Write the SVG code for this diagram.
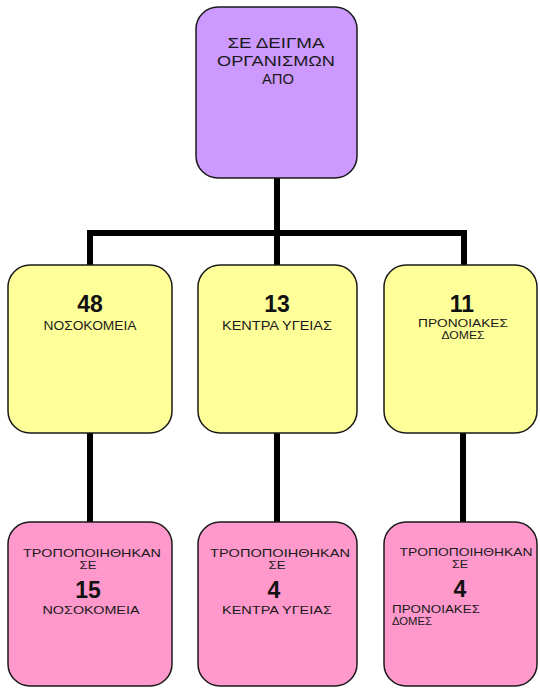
<svg xmlns="http://www.w3.org/2000/svg" width="540" height="692" viewBox="0 0 540 692">
<style>
.box{stroke:#1a1a1a;stroke-width:1.5}
.top{fill:#cc99ff}
.mid{fill:#ffff99}
.low{fill:#ff99cc}
text{font-family:"Liberation Sans",Arial,sans-serif;fill:#1a1a1a;text-anchor:middle}
.t14{font-size:14.5px}
.t12{font-size:12.5px}
.t11{font-size:11.5px}
.num{font-size:23px;font-weight:bold;fill:#111}
.conn{stroke:#000;stroke-width:6;fill:none}
</style>
<rect width="540" height="692" fill="#fff"/>
<g id="connectors">
<path class="conn" d="M277 178V236M90 265V233H464V265M277 233V265"/>
<path class="conn" d="M90 433V522M277 433V522M463 433V522"/>
</g>
<g id="n0">
<rect class="box top" x="196" y="7" width="161" height="171" rx="22"/>
<text class="t14" x="276" y="48" textLength="97" lengthAdjust="spacingAndGlyphs">ΣΕ ΔΕΙΓΜΑ</text>
<text class="t14" x="276" y="66" textLength="118" lengthAdjust="spacingAndGlyphs">ΟΡΓΑΝΙΣΜΩΝ</text>
<text class="t14" x="278" y="84" textLength="32" lengthAdjust="spacingAndGlyphs">ΑΠΟ</text>
</g>
<g id="n1">
<rect class="box mid" x="8" y="265" width="164" height="168" rx="22"/>
<text class="num" x="90" y="312">48</text>
<text class="t12" x="90" y="330" textLength="93" lengthAdjust="spacingAndGlyphs">ΝΟΣΟΚΟΜΕΙΑ</text>
</g>
<g id="n2">
<rect class="box mid" x="198" y="265" width="159" height="168" rx="22"/>
<text class="num" x="277" y="312">13</text>
<text class="t12" x="277" y="330" textLength="110" lengthAdjust="spacingAndGlyphs">ΚΕΝΤΡΑ ΥΓΕΙΑΣ</text>
</g>
<g id="n3">
<rect class="box mid" x="384" y="265" width="153" height="168" rx="22"/>
<text class="num" x="462" y="312">11</text>
<text class="t11" x="463" y="327" textLength="90" lengthAdjust="spacingAndGlyphs">ΠΡΟΝΟΙΑΚΕΣ</text>
<text class="t11" x="463" y="339" textLength="43" lengthAdjust="spacingAndGlyphs">ΔΟΜΕΣ</text>
</g>
<g id="n4">
<rect class="box low" x="8" y="522" width="164" height="164" rx="22"/>
<text class="t11" x="92" y="557" textLength="138" lengthAdjust="spacingAndGlyphs">ΤΡΟΠΟΠΟΙΗΘΗΚΑΝ</text>
<text class="t11" x="88" y="569" textLength="17" lengthAdjust="spacingAndGlyphs">ΣΕ</text>
<text class="num" x="88" y="598">15</text>
<text class="t11" x="91" y="614" textLength="97" lengthAdjust="spacingAndGlyphs">ΝΟΣΟΚΟΜΕΙΑ</text>
</g>
<g id="n5">
<rect class="box low" x="198" y="522" width="159" height="164" rx="22"/>
<text class="t11" x="280" y="557" textLength="140" lengthAdjust="spacingAndGlyphs">ΤΡΟΠΟΠΟΙΗΘΗΚΑΝ</text>
<text class="t11" x="277" y="569" textLength="17" lengthAdjust="spacingAndGlyphs">ΣΕ</text>
<text class="num" x="274" y="598">4</text>
<text class="t11" x="277" y="614" textLength="110" lengthAdjust="spacingAndGlyphs">ΚΕΝΤΡΑ ΥΓΕΙΑΣ</text>
</g>
<g id="n6">
<rect class="box low" x="384" y="522" width="153" height="164" rx="22"/>
<text class="t11" x="466" y="556" textLength="133" lengthAdjust="spacingAndGlyphs">ΤΡΟΠΟΠΟΙΗΘΗΚΑΝ</text>
<text class="t11" x="460" y="568" textLength="16" lengthAdjust="spacingAndGlyphs">ΣΕ</text>
<text class="num" x="460" y="597">4</text>
<text class="t11" x="392" y="613" style="text-anchor:start" textLength="88" lengthAdjust="spacingAndGlyphs">ΠΡΟΝΟΙΑΚΕΣ</text>
<text class="t11" x="392" y="625" style="text-anchor:start" textLength="40" lengthAdjust="spacingAndGlyphs">ΔΟΜΕΣ</text>
</g>
</svg>
